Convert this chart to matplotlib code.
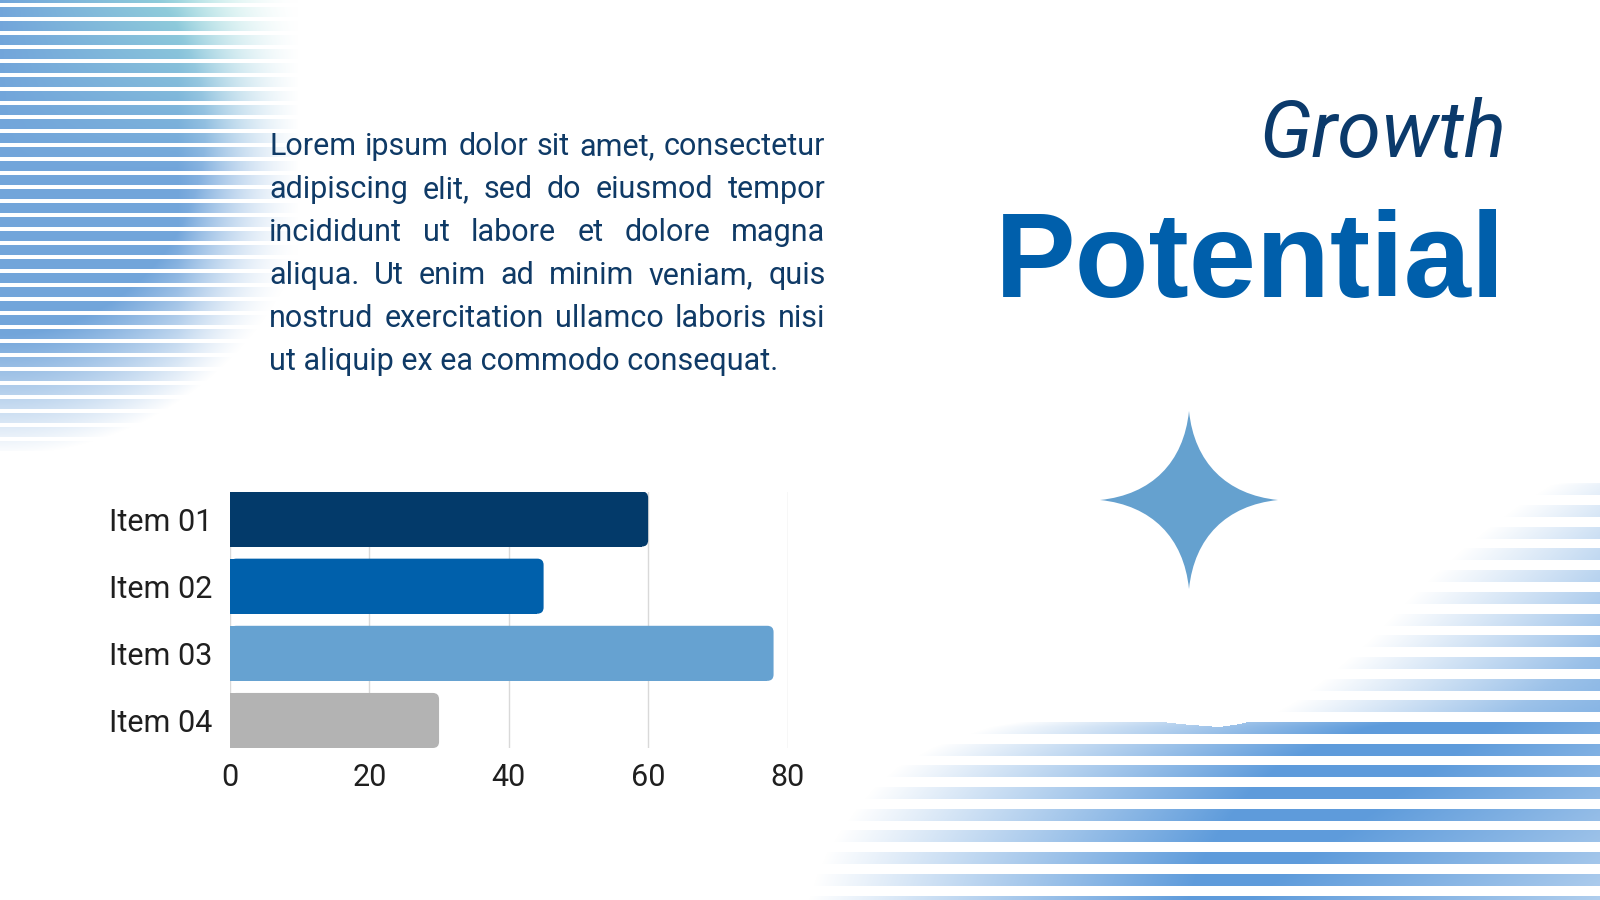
import numpy as np
import matplotlib.pyplot as plt
from matplotlib import font_manager
from matplotlib.patches import FancyBboxPatch, PathPatch
from matplotlib.path import Path

# chart data
items = ['Item 01', 'Item 02', 'Item 03', 'Item 04']
values = [60, 45, 78, 30]
bar_colors = ['#033a6a', '#0060ab', '#66a2d1', '#b3b3b3']
x_ticks = [0, 20, 40, 60, 80]

title_top = 'Growth'
title_main = 'Potential'
body_lines = [
    'Lorem ipsum dolor sit amet, consectetur',
    'adipiscing elit, sed do eiusmod tempor',
    'incididunt ut labore et dolore magna',
    'aliqua. Ut enim ad minim veniam, quis',
    'nostrud exercitation ullamco laboris nisi',
    'ut aliquip ex ea commodo consequat.',
]

names = {f.name for f in font_manager.fontManager.ttflist}
narrow = 'Liberation Sans Narrow' if 'Liberation Sans Narrow' in names else 'Roboto'

W, H = 1600, 900
fig = plt.figure(figsize=(16, 9), dpi=100)
fig.patch.set_facecolor('white')

# background layer in pixel coords (y down)
bg = fig.add_axes([0, 0, 1, 1])
bg.set_xlim(0, W)
bg.set_ylim(H, 0)
bg.axis('off')

yy, xx = np.mgrid[0:H, 0:W] + 0.5
img = np.ones((H, W, 3))

# top-left striped fan
stripe_tl = ((yy + 6.5) % 14) < 10
r = np.hypot(xx, yy - 130)
a_tl = np.clip((325 - r) / 120, 0, 1) * np.clip((298 - xx) / 120, 0, 1) ** 0.7
t = np.clip(xx / 240, 0, 1) * np.clip(1 - yy / 170, 0, 1)
blue = np.array([0.42, 0.63, 0.85])
teal = np.array([0.60, 0.87, 0.85])
col_tl = blue * (1 - t[..., None]) + teal * t[..., None]
a = (0.95 * a_tl * stripe_tl)[..., None]
img = img * (1 - a) + col_tl * a

# bottom-right striped wave
edge = [(1600, 476), (1551, 485), (1517, 507), (1489, 528), (1462, 550), (1438, 572),
        (1415, 593), (1394, 615), (1374, 637), (1350, 658), (1324, 680), (1295, 702),
        (1270, 716), (1240, 724), (1219, 727), (1180, 724), (1146, 720), (1090, 719),
        (1031, 720), (990, 727), (960, 737), (932, 748), (898, 767), (874, 788),
        (856, 810), (840, 832), (827, 853), (817, 875), (809, 900), (1600, 900)]
inside = Path(edge).contains_points(np.c_[xx.ravel(), yy.ravel()]).reshape(H, W)
first = np.where(inside.any(axis=1), inside.argmax(axis=1), W)
d = xx - first[:, None]
s = ((xx - 1600) * 250 + (yy - 650) * 350) / 430
a_br = np.clip(d / 380, 0, 1) * (1 - 0.5 * np.clip(s / 200, 0, 1))
stripe_br = ((yy - 483.3) % 21.7) < 12
a = (a_br * stripe_br * inside)[..., None]
img = img * (1 - a) + np.array([0.37, 0.61, 0.86]) * a

bg.imshow(img, extent=(0, W, H, 0), interpolation='bilinear', aspect='auto')

# four-point star
cx, cy, R = 1189, 500, 89
p, q = 0.06 * R, 0.42 * R
verts = [(cx, cy - R),
         (cx + p, cy - q), (cx + q, cy - p), (cx + R, cy),
         (cx + q, cy + p), (cx + p, cy + q), (cx, cy + R),
         (cx - p, cy + q), (cx - q, cy + p), (cx - R, cy),
         (cx - q, cy - p), (cx - p, cy - q), (cx, cy - R)]
codes = [Path.MOVETO] + [Path.CURVE4] * 12
bg.add_patch(PathPatch(Path(verts, codes), facecolor='#65a1cf', edgecolor='none'))

# titles
fig.text(1507 / W, 1 - 157 / H, title_top, ha='right', va='baseline', fontsize=57,
         family='Roboto', style='italic', weight='normal', color='#0b3a6b')
fig.text(1505 / W, 1 - 297 / H, title_main, ha='right', va='baseline', fontsize=87,
         family='Liberation Sans', weight='bold', color='#005fab')

# justified paragraph
renderer = fig.canvas.get_renderer()
x0, x1 = 269 / W, 825.5 / W
for i, line in enumerate(body_lines):
    y = 1 - (155 + 43 * i) / H
    kw = dict(fontsize=22, family='Roboto', color='#0f3a66', va='baseline')
    if i == len(body_lines) - 1:
        fig.text(x0, y, line, **kw)
        continue
    words = line.split()
    txts = [fig.text(0, y, w, **kw) for w in words]
    widths = [tx.get_window_extent(renderer).width / fig.bbox.width for tx in txts]
    gap = (x1 - x0 - sum(widths)) / (len(words) - 1)
    xpos = x0
    for tx, w in zip(txts, widths):
        tx.set_x(xpos)
        xpos += w + gap

# bar chart
ax = fig.add_axes([230 / W, 1 - 748 / H, 557.5 / W, 256.5 / H])
ax.patch.set_alpha(0)
ypos = np.arange(len(items))
bh = 0.82
rad = 0.9
ax.barh(ypos, np.array(values) - rad, height=bh, color=bar_colors, zorder=2)
for yi, v, col in zip(ypos, values, bar_colors):
    ax.add_patch(FancyBboxPatch((0, yi - bh / 2), v, bh,
                                boxstyle=f'round,pad=0,rounding_size={rad}',
                                mutation_aspect=0.104, facecolor=col,
                                edgecolor='none', zorder=2))
ax.set_xlim(0, 80)
ax.set_ylim(len(items) - 1 + bh / 2, -bh / 2)
ax.set_xticks(x_ticks)
ax.set_yticks(ypos, items)
ax.xaxis.grid(True, color='#d9d9d9', lw=1, zorder=0)
ax.set_axisbelow(True)
for sp in ax.spines.values():
    sp.set_visible(False)
ax.tick_params(axis='y', length=0, pad=13, labelsize=22, labelcolor='#1f1f1f')
ax.tick_params(axis='x', length=0, pad=11, labelsize=22, labelcolor='#1f1f1f')
for lab in ax.get_xticklabels() + ax.get_yticklabels():
    lab.set_family(narrow)

fig.savefig('out.png', dpi=100)
